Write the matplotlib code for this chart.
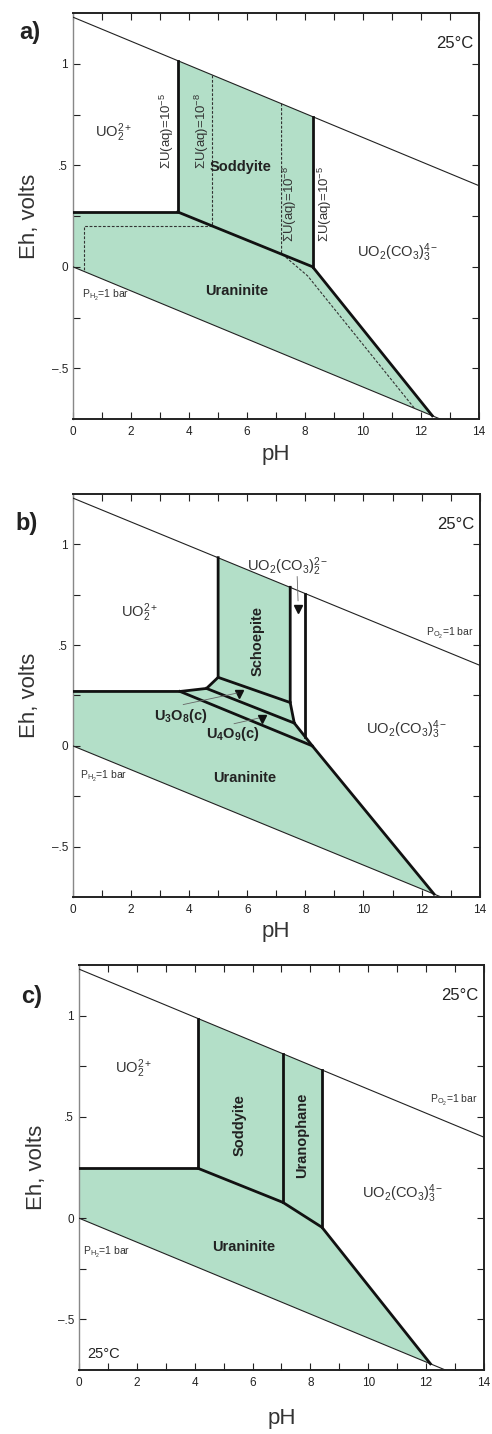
"""
Eh-pH diagrams for the U-O-H-C(-Si) system at 25 C, three panels.
"""

import matplotlib
matplotlib.use('Agg')
from matplotlib import pyplot as plt
from matplotlib.ticker import FixedLocator, FixedFormatter, MultipleLocator

plt.rcParams['font.family'] = ['Liberation Sans', 'DejaVu Sans']
plt.rcParams['mathtext.fontset'] = 'custom'
plt.rcParams['mathtext.rm'] = 'Liberation Sans'
plt.rcParams['mathtext.it'] = 'Liberation Sans:italic'
plt.rcParams['mathtext.bf'] = 'Liberation Sans:bold'

# ---- data (pH, Eh in volts) ----
o2_ph = [0, 14]
o2_eh = [1.23, 0.40]
h2_ph = [0, 12.67]
h2_eh = [0.0, -0.75]

# panel a
a_fill_ph = [0, 0, 3.62, 3.62, 8.27, 8.27, 12.40, 0]
a_fill_eh = [0, 0.27, 0.27, 1.016, 0.740, 0.0, -0.734, 0]
a_thick = [
    ([0, 3.62, 3.62], [0.27, 0.27, 1.016]),
    ([3.62, 8.27, 12.40], [0.27, 0.0, -0.734]),
    ([8.27, 8.27], [0.740, 0.0]),
]
a_dash = [
    ([4.79, 4.79, 0.38, 0.38], [0.946, 0.20, 0.20, -0.022]),
    ([7.20, 7.20, 8.10, 11.80], [0.804, 0.065, -0.045, -0.70]),
]

# panel b
b_fill_ph = [0, 0, 3.69, 4.60, 5.00, 5.00, 7.48, 7.48, 7.62, 8.00, 8.24,
             12.43, 0]
b_fill_eh = [0, 0.27, 0.27, 0.285, 0.34, 0.934, 0.787, 0.215, 0.113, 0.044,
             0.0, -0.736, 0]
b_thick = [
    ([0, 3.69, 4.60, 5.00, 5.00], [0.27, 0.27, 0.285, 0.34, 0.934]),
    ([3.69, 8.24, 12.43], [0.27, 0.0, -0.736]),
    ([4.60, 7.62], [0.285, 0.113]),
    ([5.00, 7.48], [0.34, 0.215]),
    ([7.48, 7.48, 7.62, 8.00, 8.24], [0.787, 0.215, 0.113, 0.044, 0.0]),
    ([8.00, 8.00], [0.756, 0.044]),
]
b_arrows_ph = [7.75, 5.73, 6.50]
b_arrows_eh = [0.68, 0.255, 0.135]

# panel c
c_fill_ph = [0, 0, 4.12, 4.12, 8.40, 8.40, 12.15, 0]
c_fill_eh = [0, 0.246, 0.246, 0.986, 0.733, -0.045, -0.719, 0]
c_thick = [
    ([0, 4.12, 4.12], [0.246, 0.246, 0.986]),
    ([4.12, 7.05, 8.40, 12.15], [0.246, 0.078, -0.045, -0.719]),
    ([7.05, 7.05], [0.078, 0.813]),
    ([8.40, 8.40], [-0.045, 0.733]),
]

GREEN = '#b3dfc8'
TXT = '#333333'


def setup_axes(ax, pad_x=4):
    ax.set_xlim(0, 14)
    ax.set_ylim(-0.75, 1.25)
    ax.xaxis.set_major_locator(MultipleLocator(2))
    ax.xaxis.set_minor_locator(MultipleLocator(1))
    ax.yaxis.set_major_locator(FixedLocator([-0.5, 0, 0.5, 1]))
    ax.yaxis.set_major_formatter(FixedFormatter(['\u2013.5', '0', '.5', '1']))
    ax.yaxis.set_minor_locator(FixedLocator([-0.25, 0.25, 0.75]))
    ax.tick_params(which='both', direction='in', top=True, right=True,
                   labelsize=8.5, colors='#222222', width=0.8)
    ax.tick_params(which='major', length=5)
    ax.tick_params(which='minor', length=5)
    ax.tick_params(axis='x', pad=5)
    for s in ['bottom', 'top', 'right']:
        ax.spines[s].set_linewidth(1.4)
        ax.spines[s].set_color('#222222')
    ax.spines['left'].set_linewidth(1.0)
    ax.spines['left'].set_color('#888888')
    ax.set_xlabel('pH', fontsize=16, color=TXT, labelpad=pad_x)
    ax.set_ylabel('Eh, volts', fontsize=16, color=TXT, labelpad=8)


def water_lines(ax):
    ax.plot(o2_ph, o2_eh, color='#222222', lw=0.8, zorder=3)
    ax.plot(h2_ph, h2_eh, color='#222222', lw=0.8, zorder=3)


def thick_lines(ax, lines):
    for ph, eh in lines:
        ax.plot(ph, eh, color='#111111', lw=2.0, solid_joinstyle='miter',
                zorder=4)


fig = plt.figure(figsize=(4.92, 14.34), dpi=100)
ax_a = fig.add_axes([0.148, 0.7078, 0.825, 0.2831])
ax_b = fig.add_axes([0.148, 0.3745, 0.827, 0.2810])
ax_c = fig.add_axes([0.1606, 0.0446, 0.823, 0.2824])

# ---- a) ----
ax = ax_a
setup_axes(ax)
ax.fill(a_fill_ph, a_fill_eh, color=GREEN, lw=0, zorder=1)
water_lines(ax)
for ph, eh in a_dash:
    ax.plot(ph, eh, color='#333333', lw=0.8, ls=(0, (2.5, 1.5)), zorder=3)
thick_lines(ax, a_thick)
ax.text(1.4, 0.66, r'UO$_2^{2+}$', fontsize=10.5, color=TXT, ha='center',
        va='center')
ax.text(5.8, 0.49, 'Soddyite', fontsize=10.5, fontweight='bold',
        color='#222222', ha='center', va='center')
ax.text(5.65, -0.12, 'Uraninite', fontsize=10.5, fontweight='bold',
        color='#222222', ha='center', va='center')
ax.text(11.2, 0.07, r'UO$_2$(CO$_3$)$_3^{4-}$', fontsize=10.5, color=TXT,
        ha='center', va='center')
ax.text(0.3, -0.14, r'P$_{\mathrm{H_2}}$=1 bar', fontsize=7.5, color=TXT,
        ha='left', va='center')
ax.text(3.25, 0.67, r'$\Sigma$U(aq)=10$^{-5}$', fontsize=9.5, color=TXT,
        rotation=90, ha='center', va='center')
ax.text(4.45, 0.67, r'$\Sigma$U(aq)=10$^{-8}$', fontsize=9.5, color=TXT,
        rotation=90, ha='center', va='center')
ax.text(7.5, 0.31, r'$\Sigma$U(aq)=10$^{-8}$', fontsize=9.5, color=TXT,
        rotation=90, ha='center', va='center')
ax.text(8.7, 0.31, r'$\Sigma$U(aq)=10$^{-5}$', fontsize=9.5, color=TXT,
        rotation=90, ha='center', va='center')
ax.text(13.8, 1.1, '25\u00b0C', fontsize=12, color='#222222', ha='right',
        va='center')
fig.text(0.06, 0.977, 'a)', fontsize=17, fontweight='bold', color='#222222',
         ha='center', va='center')

# ---- b) ----
ax = ax_b
setup_axes(ax)
ax.fill(b_fill_ph, b_fill_eh, color=GREEN, lw=0, zorder=1)
water_lines(ax)
thick_lines(ax, b_thick)
ax.plot(b_arrows_ph, b_arrows_eh, ls='none', marker='v', markersize=6,
        color='#111111', zorder=5)
# leader lines
ax.plot([7.72, 7.75], [0.84, 0.72], color='#666666', lw=0.6, zorder=5)
ax.plot([3.8, 5.65], [0.205, 0.262], color='#666666', lw=0.6, zorder=5)
ax.plot([5.55, 6.4], [0.11, 0.138], color='#666666', lw=0.6, zorder=5)
ax.text(2.3, 0.66, r'UO$_2^{2+}$', fontsize=10.5, color=TXT, ha='center',
        va='center')
ax.text(7.4, 0.89, r'UO$_2$(CO$_3$)$_2^{2-}$', fontsize=10.5, color=TXT,
        ha='center', va='center')
ax.text(6.35, 0.52, 'Schoepite', fontsize=10.5, fontweight='bold',
        color='#222222', rotation=90, ha='center', va='center')
ax.text(3.72, 0.148, r'U$_\mathbf{3}$O$_\mathbf{8}$(c)', fontsize=10.5,
        fontweight='bold', color='#222222', ha='center', va='center')
ax.text(5.5, 0.06, r'U$_\mathbf{4}$O$_\mathbf{9}$(c)', fontsize=10.5,
        fontweight='bold', color='#222222', ha='center', va='center')
ax.text(5.9, -0.16, 'Uraninite', fontsize=10.5, fontweight='bold',
        color='#222222', ha='center', va='center')
ax.text(11.5, 0.08, r'UO$_2$(CO$_3$)$_3^{4-}$', fontsize=10.5, color=TXT,
        ha='center', va='center')
ax.text(0.25, -0.15, r'P$_{\mathrm{H_2}}$=1 bar', fontsize=7.5, color=TXT,
        ha='left', va='center')
ax.text(13.8, 0.56, r'P$_{\mathrm{O_2}}$=1 bar', fontsize=7.5, color=TXT,
        ha='right', va='center')
ax.text(13.8, 1.1, '25\u00b0C', fontsize=12, color='#222222', ha='right',
        va='center')
fig.text(0.055, 0.635, 'b)', fontsize=17, fontweight='bold', color='#222222',
         ha='center', va='center')

# ---- c) ----
ax = ax_c
setup_axes(ax, pad_x=14)
ax.fill(c_fill_ph, c_fill_eh, color=GREEN, lw=0, zorder=1)
water_lines(ax)
thick_lines(ax, c_thick)
ax.text(1.87, 0.74, r'UO$_2^{2+}$', fontsize=10.5, color=TXT, ha='center',
        va='center')
ax.text(5.55, 0.46, 'Soddyite', fontsize=10.5, fontweight='bold',
        color='#222222', rotation=90, ha='center', va='center')
ax.text(7.72, 0.41, 'Uranophane', fontsize=10.5, fontweight='bold',
        color='#222222', rotation=90, ha='center', va='center')
ax.text(11.2, 0.12, r'UO$_2$(CO$_3$)$_3^{4-}$', fontsize=10.5, color=TXT,
        ha='center', va='center')
ax.text(5.7, -0.14, 'Uraninite', fontsize=10.5, fontweight='bold',
        color='#222222', ha='center', va='center')
ax.text(0.15, -0.17, r'P$_{\mathrm{H_2}}$=1 bar', fontsize=7.5, color=TXT,
        ha='left', va='center')
ax.text(13.8, 0.58, r'P$_{\mathrm{O_2}}$=1 bar', fontsize=7.5, color=TXT,
        ha='right', va='center')
ax.text(13.8, 1.1, '25\u00b0C', fontsize=12, color='#222222', ha='right',
        va='center')
ax.text(0.3, -0.67, '25\u00b0C', fontsize=10.5, color='#222222', ha='left',
        va='center')
fig.text(0.065, 0.305, 'c)', fontsize=17, fontweight='bold', color='#222222',
         ha='center', va='center')

plt.savefig('out.png', dpi=100)
plt.close()
